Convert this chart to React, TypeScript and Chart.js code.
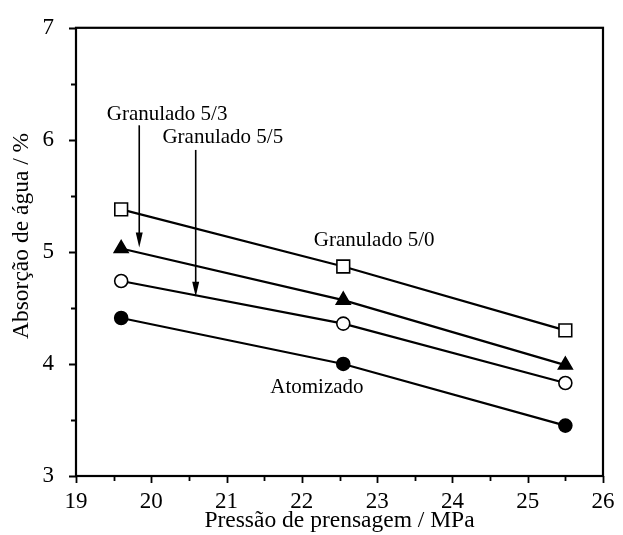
import React, { useEffect, useRef } from 'react';
import { Chart, registerables } from 'chart.js';

Chart.register(...registerables);

// ---- data ----
const pressures = [19.6, 22.55, 25.5];
const granulado50 = [5.38, 4.87, 4.3];
const granulado53 = [5.03, 4.57, 3.99];
const granulado55 = [4.74, 4.36, 3.83];
const atomizado = [4.41, 4.0, 3.45];
const seriesNames = ['Granulado 5/0', 'Granulado 5/3', 'Granulado 5/5', 'Atomizado'];
const xTickValues = [19, 20, 21, 22, 23, 24, 25, 26];
const yTickValues = [3, 4, 5, 6, 7];
const xTitle = 'Pressão de prensagem / MPa';
const yTitle = 'Absorção de água / %';

// annotation texts (data coordinates)
const labelTexts = ['Granulado 5/3', 'Granulado 5/5', 'Granulado 5/0', 'Atomizado'];
const labelX = [20.21, 20.95, 22.96, 22.2];
const labelY = [6.23, 6.02, 5.1, 3.79];
// arrows (data coordinates)
const arrowX = [19.84, 20.59];
const arrowFromY = [6.13, 5.91];
const arrowToY = [5.04, 4.6];

const FONT = "'Liberation Serif', 'Times New Roman', serif";

const decorPlugin = {
  id: 'decor',
  afterDraw(chart: any) {
    const { ctx, chartArea } = chart;
    const xs = chart.scales.x;
    const ys = chart.scales.y;
    ctx.save();
    ctx.strokeStyle = '#000';
    ctx.fillStyle = '#000';
    // frame
    ctx.lineWidth = 2.2;
    ctx.strokeRect(chartArea.left, chartArea.top, chartArea.right - chartArea.left, chartArea.bottom - chartArea.top);
    // ticks
    ctx.lineWidth = 1.8;
    ctx.beginPath();
    for (let v = xs.min; v <= xs.max + 1e-9; v += 0.5) {
      const px = Math.round(xs.getPixelForValue(v)) + 0.5;
      const major = Math.abs(v - Math.round(v)) < 1e-6;
      ctx.moveTo(px, chartArea.bottom);
      ctx.lineTo(px, chartArea.bottom + (major ? 7 : 5));
    }
    for (let v = ys.min; v <= ys.max + 1e-9; v += 0.5) {
      const py = Math.round(ys.getPixelForValue(v)) + 0.5;
      const major = Math.abs(v - Math.round(v)) < 1e-6;
      ctx.moveTo(chartArea.left, py);
      ctx.lineTo(chartArea.left - (major ? 7 : 5), py);
    }
    ctx.stroke();
    // y-axis title
    ctx.save();
    ctx.font = `23.5px ${FONT}`;
    ctx.textAlign = 'center';
    ctx.textBaseline = 'middle';
    ctx.translate(22, (chartArea.top + chartArea.bottom) / 2 - 16);
    ctx.rotate(-Math.PI / 2);
    ctx.fillText(yTitle, 0, 0);
    ctx.restore();
    // annotation labels
    ctx.font = `21px ${FONT}`;
    ctx.textAlign = 'center';
    ctx.textBaseline = 'middle';
    labelTexts.forEach((t, i) => {
      ctx.fillText(t, xs.getPixelForValue(labelX[i]), ys.getPixelForValue(labelY[i]));
    });
    // arrows
    ctx.lineWidth = 1.6;
    arrowX.forEach((ax, i) => {
      const px = xs.getPixelForValue(ax);
      const y0 = ys.getPixelForValue(arrowFromY[i]);
      const y1 = ys.getPixelForValue(arrowToY[i]);
      const head = 15;
      ctx.beginPath();
      ctx.moveTo(px, y0);
      ctx.lineTo(px, y1 - head + 2);
      ctx.stroke();
      ctx.beginPath();
      ctx.moveTo(px, y1);
      ctx.lineTo(px - 3.5, y1 - head);
      ctx.lineTo(px + 3.5, y1 - head);
      ctx.closePath();
      ctx.fill();
    });
    ctx.restore();
  },
};

export default function App() {
  const ref = useRef<HTMLCanvasElement>(null);
  useEffect(() => {
    if (!ref.current) return;
    const mk = (vals: number[]) => pressures.map((p, i) => ({ x: p, y: vals[i] }));
    const common = {
      borderColor: '#000',
      borderWidth: 2.2,
      pointBorderColor: '#000',
      pointBorderWidth: 1.6,
      showLine: true,
      fill: false,
      tension: 0,
    };
    const chart = new Chart(ref.current, {
      type: 'scatter',
      data: {
        datasets: [
          { ...common, label: seriesNames[0], data: mk(granulado50), pointStyle: 'rect', pointRadius: 9, pointBackgroundColor: '#fff' },
          { ...common, label: seriesNames[1], data: mk(granulado53), pointStyle: 'triangle', pointRadius: 8, pointBackgroundColor: '#000' },
          { ...common, label: seriesNames[2], data: mk(granulado55), pointStyle: 'circle', pointRadius: 6.5, pointBackgroundColor: '#fff' },
          { ...common, label: seriesNames[3], data: mk(atomizado), pointStyle: 'circle', pointRadius: 6.5, pointBackgroundColor: '#000' },
        ] as any,
      },
      options: {
        animation: false,
        responsive: false,
        maintainAspectRatio: false,
        layout: { padding: { top: 18, right: 20, left: 0, bottom: 0 } },
        plugins: { legend: { display: false }, tooltip: { enabled: false } },
        scales: {
          x: {
            type: 'linear',
            min: 19,
            max: 26,
            afterBuildTicks: (s: any) => { s.ticks = xTickValues.map((v) => ({ value: v })); },
            afterFit: (s: any) => { s.height = 59; },
            grid: { display: false },
            border: { display: false },
            ticks: { color: '#000', font: { family: FONT, size: 23 }, padding: 4, maxRotation: 0, autoSkip: false },
            title: { display: true, text: xTitle, color: '#000', font: { family: FONT, size: 23.5 }, padding: { top: 0, bottom: 0 } },
          },
          y: {
            type: 'linear',
            min: 3,
            max: 7,
            afterBuildTicks: (s: any) => { s.ticks = yTickValues.map((v) => ({ value: v })); },
            afterFit: (s: any) => { s.width = 76; },
            grid: { display: false },
            border: { display: false },
            ticks: { color: '#000', font: { family: FONT, size: 23 }, padding: 14, autoSkip: false },
            title: { display: false, text: yTitle },
          },
        },
      } as any,
      plugins: [decorPlugin],
    });
    return () => chart.destroy();
  }, []);
  return (
    <div style={{ position: 'absolute', left: 0, top: 0, width: 623, height: 535, background: '#fff' }}>
      <canvas ref={ref} width={623} height={535} />
    </div>
  );
}
